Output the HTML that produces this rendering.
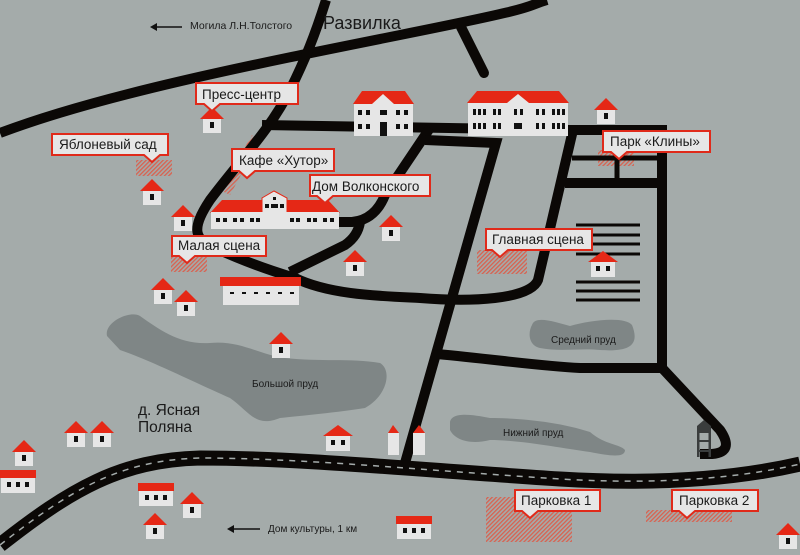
<!DOCTYPE html>
<html><head><meta charset="utf-8"><style>
html,body{margin:0;padding:0;background:#a4abaa;}
svg{display:block;font-family:"Liberation Sans","DejaVu Sans",sans-serif;}
.lb{fill:#e6e6e6;stroke:#e02a1a;stroke-width:2;}
.lt{font-size:13.5px;fill:#1a1a1a;}
.sm{font-size:10px;fill:#1a1a1a;}
</style></head><body>
<svg width="800" height="555" viewBox="0 0 800 555" xmlns="http://www.w3.org/2000/svg">
<defs>
<pattern id="h" width="3" height="3" patternUnits="userSpaceOnUse" patternTransform="rotate(45)">
<rect width="1.3" height="3" fill="#d9614f"/></pattern>
<symbol id="hs" viewBox="0 0 24 26" width="24" height="26" overflow="visible">
<polygon points="0,12 12,0 24,12" fill="#e52816"/><rect x="3" y="12" width="18" height="14" fill="#e6e6e6"/><rect x="10" y="15" width="4" height="6" fill="#111"/></symbol>
<symbol id="hd" viewBox="0 0 30 26" width="30" height="26" overflow="visible">
<polygon points="0,11 15,0 30,11" fill="#e52816"/><rect x="3" y="11" width="24" height="15" fill="#e6e6e6"/><rect x="8" y="15" width="4" height="5" fill="#111"/><rect x="18" y="15" width="4" height="5" fill="#111"/></symbol>
<symbol id="hw" viewBox="0 0 36 24" width="36" height="24" overflow="visible">
<rect x="0" y="0" width="36" height="8" fill="#e52816"/><rect x="1" y="8" width="34" height="15" fill="#e6e6e6"/><rect x="7" y="12" width="4" height="5" fill="#111"/><rect x="16" y="12" width="4" height="5" fill="#111"/><rect x="25" y="12" width="4" height="5" fill="#111"/></symbol>
</defs>
<rect width="800" height="555" fill="#a4abaa"/>
<path d="M107,336 C104,322 130,310 140,316 C160,330 180,345 210,343 C240,340 260,355 285,358 C320,362 350,358 380,363 C392,370 388,395 365,408 C340,412 300,416 280,418 C255,428 250,412 230,398 C200,385 150,360 120,350 Z" fill="#7f8686"/>
<path d="M532,325 C535,315 555,322 570,326 C590,320 625,316 632,325 C640,345 630,352 600,350 C580,348 560,352 540,348 C528,345 528,332 532,325 Z" fill="#7f8686"/>
<path d="M450,422 C452,412 470,414 490,418 C520,418 560,422 590,432 C605,445 620,444 625,450 C625,458 610,456 590,452 C560,448 520,440 490,440 C470,445 455,440 450,430 Z" fill="#7f8686"/>
<rect x="136" y="160" width="36" height="16" fill="url(#h)"/>
<rect x="171" y="256" width="36" height="16" fill="url(#h)"/>
<polygon points="252,135 260,140 230,195 220,190" fill="url(#h)"/>
<rect x="477" y="250" width="50" height="24" fill="url(#h)"/>
<rect x="598" y="150" width="36" height="16" fill="url(#h)"/>
<rect x="486" y="497" width="86" height="45" fill="url(#h)"/>
<rect x="646" y="510" width="86" height="12" fill="url(#h)"/>
<g fill="none" stroke="#0b0806" stroke-width="10" stroke-linecap="butt">
<path d="M0,133 C100,95 250,65 400,35 S520,8 547,0"/>
<path d="M461,27 L484,73" stroke-linecap="round"/>
<path d="M326,0 C315,35 305,60 290,90 C270,130 240,160 210,200 C190,230 195,240 215,248 C245,262 275,272 295,278 C330,295 380,296 420,298 C470,302 530,300 538,280 L545,250 L573,130 L662,130 L662,368"/>
<path d="M262,125 L570,130"/>
<path d="M290,272 L345,245 Q358,236 360,222"/>
<path d="M338,222 L352,222 Q375,220 385,195 L430,128"/>
<path d="M425,140 L496,143 L403,470"/>
<path d="M437,354 C500,360 540,366 580,368 L662,368 L720,430 Q735,452 712,454 L700,454"/>
<path d="M565,183 L665,183"/>
<path d="M572,158 L660,158 M617,158 L617,183" stroke-width="5"/>
</g>
<g stroke="#0b0806" stroke-width="3">
<path d="M576,225 H640 M576,235 H640 M576,244 H640 M576,254 H640 M576,282 H640 M576,291 H640 M576,300 H640"/>
</g>
<path d="M0,545 C70,490 120,460 200,458 C300,458 420,470 560,479 C660,485 740,478 800,464" fill="none" stroke="#0b0806" stroke-width="15"/>
<path d="M0,545 C70,490 120,460 200,458 C300,458 420,470 560,479 C660,485 740,478 800,464" fill="none" stroke="#a4abaa" stroke-width="1.5" stroke-dasharray="6,6"/>
<g fill="#3a3d3d"><polygon points="697,426 704,420 711,426 711,433 697,433"/><rect x="697" y="433" width="2.5" height="24"/><rect x="708.5" y="433" width="2.5" height="24"/><rect x="697" y="440" width="14" height="2"/><rect x="697" y="450" width="14" height="2"/></g>
<g>
<polygon points="353,104 362,91 405,91 414,104" fill="#e52816"/>
<polygon points="372,104 383,94 394,104" fill="#e6e6e6"/>
<rect x="354" y="104" width="59" height="32" fill="#e6e6e6"/>
<g fill="#111"><rect x="358" y="110" width="4" height="5"/><rect x="366" y="110" width="4" height="5"/><rect x="380" y="110" width="7" height="5"/><rect x="396" y="110" width="4" height="5"/><rect x="404" y="110" width="4" height="5"/>
<rect x="358" y="124" width="4" height="5"/><rect x="366" y="124" width="4" height="5"/><rect x="380" y="122" width="7" height="14"/><rect x="396" y="124" width="4" height="5"/><rect x="404" y="124" width="4" height="5"/></g>
</g>
<g>
<polygon points="467,103 477,91 559,91 569,103" fill="#e52816"/>
<polygon points="507,103 518,94 529,103" fill="#e6e6e6"/>
<rect x="468" y="103" width="100" height="33" fill="#e6e6e6"/>
<g fill="#111">
<rect x="473" y="109" width="3" height="6"/><rect x="478" y="109" width="3" height="6"/><rect x="483" y="109" width="3" height="6"/><rect x="493" y="109" width="3" height="6"/><rect x="498" y="109" width="3" height="6"/><rect x="514" y="109" width="3" height="6"/><rect x="520" y="109" width="3" height="6"/><rect x="536" y="109" width="3" height="6"/><rect x="542" y="109" width="3" height="6"/><rect x="552" y="109" width="3" height="6"/><rect x="557" y="109" width="3" height="6"/><rect x="562" y="109" width="3" height="6"/>
<rect x="473" y="123" width="3" height="6"/><rect x="478" y="123" width="3" height="6"/><rect x="483" y="123" width="3" height="6"/><rect x="493" y="123" width="3" height="6"/><rect x="498" y="123" width="3" height="6"/><rect x="514" y="123" width="8" height="6"/><rect x="536" y="123" width="3" height="6"/><rect x="542" y="123" width="3" height="6"/><rect x="552" y="123" width="3" height="6"/><rect x="557" y="123" width="3" height="6"/><rect x="562" y="123" width="3" height="6"/></g>
</g>
<g>
<polygon points="210,213 222,200 328,200 340,213" fill="#e52816"/>
<polygon points="262,213 262,198 274,191 287,198 287,213" fill="#e6e6e6" stroke="#e52816" stroke-width="1"/>
<rect x="211" y="212" width="128" height="17" fill="#e6e6e6"/>
<g fill="#111"><rect x="216" y="218" width="4" height="4"/><rect x="223" y="218" width="4" height="4"/><rect x="233" y="218" width="4" height="4"/><rect x="240" y="218" width="4" height="4"/><rect x="250" y="218" width="4" height="4"/><rect x="256" y="218" width="4" height="4"/>
<rect x="290" y="218" width="4" height="4"/><rect x="296" y="218" width="4" height="4"/><rect x="307" y="218" width="4" height="4"/><rect x="313" y="218" width="4" height="4"/><rect x="323" y="218" width="4" height="4"/><rect x="330" y="218" width="4" height="4"/>
<rect x="265" y="204" width="4" height="4"/><rect x="271" y="204" width="7" height="4"/><rect x="280" y="204" width="4" height="4"/><rect x="273" y="197" width="3" height="3"/></g>
</g>
<g>
<rect x="220" y="277" width="81" height="9" fill="#e52816"/>
<rect x="223" y="286" width="76" height="19" fill="#e6e6e6"/>
<g fill="#111"><rect x="230" y="292" width="4" height="2"/><rect x="242" y="292" width="4" height="2"/><rect x="254" y="292" width="4" height="2"/><rect x="266" y="292" width="4" height="2"/><rect x="278" y="292" width="4" height="2"/><rect x="290" y="292" width="4" height="2"/></g>
</g>
<g><polygon points="388,433 393,425 399,433" fill="#e52816"/><rect x="388" y="433" width="11" height="22" fill="#e6e6e6"/>
<polygon points="413,433 419,425 425,433" fill="#e52816"/><rect x="413" y="433" width="12" height="22" fill="#e6e6e6"/></g>
<use href="#hs" x="200" y="107"/>
<use href="#hs" x="140" y="179"/>
<use href="#hs" x="171" y="205"/>
<use href="#hs" x="379" y="215"/>
<use href="#hs" x="343" y="250"/>
<use href="#hs" x="151" y="278"/>
<use href="#hs" x="174" y="290"/>
<use href="#hs" x="269" y="332"/>
<use href="#hs" x="594" y="98"/>
<use href="#hd" x="588" y="251"/>
<use href="#hd" x="323" y="425"/>
<use href="#hs" x="64" y="421"/>
<use href="#hs" x="90" y="421"/>
<use href="#hs" x="12" y="440"/>
<use href="#hw" x="0" y="470"/>
<use href="#hw" x="138" y="483"/>
<use href="#hs" x="180" y="492"/>
<use href="#hs" x="143" y="513"/>
<use href="#hw" x="396" y="516"/>
<use href="#hs" x="776" y="523"/>
<g>
<path class="lb" d="M196,83 H298 V104 H220 L212,111 L204,104 H196 Z"/><text class="lt" x="202" y="99">Пресс-центр</text>
<path class="lb" d="M52,134 H168 V155 H160 L152,162 L144,155 H52 Z"/><text class="lt" x="59" y="149">Яблоневый сад</text>
<path class="lb" d="M232,149 H334 V171 H255 L247,178 L239,171 H232 Z"/><text class="lt" x="239" y="165">Кафе «Хутор»</text>
<path class="lb" d="M310,175 H430 V196 H333 L325,203 L317,196 H310 Z"/><text class="lt" x="312" y="191">Дом Волконского</text>
<path class="lb" d="M172,236 H266 V256 H195 L187,263 L179,256 H172 Z"/><text class="lt" x="178" y="250">Малая сцена</text>
<path class="lb" d="M486,229 H592 V250 H508 L500,257 L492,250 H486 Z"/><text class="lt" x="492" y="244">Главная сцена</text>
<path class="lb" d="M603,131 H710 V152 H627 L619,159 L611,152 H603 Z"/><text class="lt" x="610" y="146">Парк «Клины»</text>
<path class="lb" d="M515,490 H600 V511 H538 L530,518 L522,511 H515 Z"/><text class="lt" x="521" y="505">Парковка 1</text>
<path class="lb" d="M672,490 H758 V511 H695 L687,518 L679,511 H672 Z"/><text class="lt" x="679" y="505">Парковка 2</text>
</g>
<text x="323" y="29" font-size="18" fill="#1a1a1a">Развилка</text>
<text x="190" y="29" font-size="10.5" fill="#1a1a1a">Могила Л.Н.Толстого</text>
<path d="M182,27 H153" stroke="#111" stroke-width="1.5"/><polygon points="150,27 157,23 157,31" fill="#111"/>
<text x="138" y="415" font-size="15.5" fill="#1a1a1a">д. Ясная</text>
<text x="138" y="432" font-size="15.5" fill="#1a1a1a">Поляна</text>
<text class="sm" x="252" y="387">Большой пруд</text>
<text class="sm" x="551" y="343">Средний пруд</text>
<text class="sm" x="503" y="436">Нижний пруд</text>
<text class="sm" x="268" y="532">Дом культуры, 1 км</text>
<path d="M260,529 H231" stroke="#111" stroke-width="1.5"/><polygon points="227,529 234,525 234,533" fill="#111"/>
</svg>
</body></html>
